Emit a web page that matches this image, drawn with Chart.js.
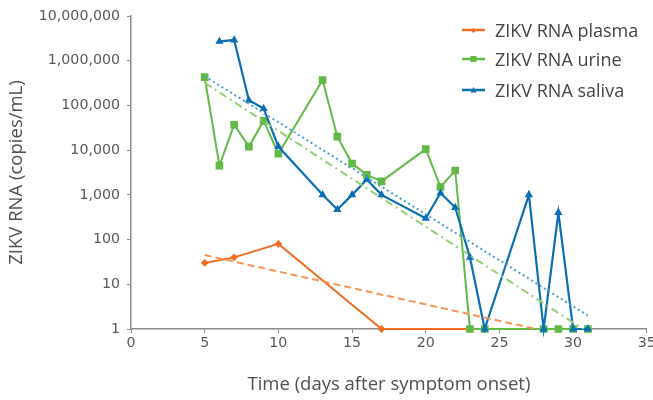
<!DOCTYPE html>
<html>
<head>
<meta charset="utf-8">
<script src="https://cdn.jsdelivr.net/npm/chart.js@4.4.1/dist/chart.umd.min.js"></script>
<style>
  html, body { margin: 0; padding: 0; background: #fff; }
  #wrap { position: relative; width: 653px; height: 400px; }
  #legend { position: absolute; left: 462px; top: 14px; font-family: "Open Sans", sans-serif; font-size: 18px; color: #454545; }
  .item { position: absolute; left: 0; height: 20px; white-space: nowrap; display: flex; align-items: center; }
  .item svg { margin-right: 10px; }
</style>
</head>
<body>
<div id="wrap">
  <canvas id="chart" width="653" height="400"></canvas>
  <div id="legend"></div>
</div>
<script>
// days and copies/mL
const plasmaDays = [5, 7, 10, 17, 23, 24, 28, 31];
const plasmaValues = [30, 40, 80, 1, 1, 1, 1, 1];

const urineDays = [5, 6, 7, 8, 9, 10, 13, 14, 15, 16, 17, 20, 21, 22, 23, 24, 28, 29, 30, 31];
const urineValues = [430000, 4500, 37000, 12000, 45000, 8300, 370000, 20000, 5000, 2800, 2000, 10500, 1500, 3500, 1, 1, 1, 1, 1, 1];

const salivaDays = [6, 7, 8, 9, 10, 13, 14, 15, 16, 17, 20, 21, 22, 23, 24, 27, 28, 29, 30, 31];
const salivaValues = [2700000, 2900000, 130000, 85000, 12000, 1000, 470, 1000, 2200, 1000, 300, 1100, 520, 40, 1, 1000, 1, 400, 1, 1];

// trend line end points [day, value]
const plasmaTrend = [[5, 45], [31, 0.55]];
const urineTrend = [[5, 320000], [31, 0.85]];
const salivaTrend = [[5, 450000], [31, 2]];

const yTicks = [1, 10, 100, 1000, 10000, 100000, 1000000, 10000000];
const xTicks = [0, 5, 10, 15, 20, 25, 30, 35];

const seriesNames = ["ZIKV RNA plasma", "ZIKV RNA urine", "ZIKV RNA saliva"];
const colors = ["#f26d21", "#62b946", "#0b6fb3"];
const trendColors = ["#f7955a", "#93cf74", "#4b9cd6"];

function pts(days, vals) {
  return days.map((d, i) => ({ x: d, y: vals[i] }));
}

const datasets = [
  {
    label: seriesNames[0], data: pts(plasmaDays, plasmaValues),
    borderColor: colors[0], backgroundColor: colors[0], borderWidth: 2,
    pointStyle: "rectRot", pointRadius: 2.5, clip: false, order: 3,
  },
  {
    label: seriesNames[1], data: pts(urineDays, urineValues),
    borderColor: colors[1], backgroundColor: colors[1], borderWidth: 2,
    pointStyle: "rect", pointRadius: 4, clip: false, order: 2,
  },
  {
    label: seriesNames[2], data: pts(salivaDays, salivaValues),
    borderColor: colors[2], backgroundColor: colors[2], borderWidth: 2.2,
    pointStyle: "triangle", pointRadius: 2.6, clip: false, order: 1,
  },
  {
    label: "plasma trend", data: plasmaTrend.map(p => ({ x: p[0], y: p[1] })),
    borderColor: trendColors[0], borderWidth: 2, borderDash: [7, 4], pointRadius: 0, order: 0,
  },
  {
    label: "urine trend", data: urineTrend.map(p => ({ x: p[0], y: p[1] })),
    borderColor: trendColors[1], borderWidth: 2, borderDash: [8, 4, 2, 4], pointRadius: 0, order: 0,
  },
  {
    label: "saliva trend", data: salivaTrend.map(p => ({ x: p[0], y: p[1] })),
    borderColor: trendColors[2], borderWidth: 2, borderDash: [2, 3], pointRadius: 0, order: 0,
  },
];

const tickFont = { family: "'DejaVu Sans', Verdana, sans-serif", size: 14.2 };
const titleFont = { family: "'Open Sans', sans-serif", size: 18.5 };

new Chart(document.getElementById("chart").getContext("2d"), {
  type: "line",
  data: { datasets: datasets },
  options: {
    responsive: false,
    animation: false,
    layout: { padding: { top: 16, right: 3, left: 0, bottom: 0 } },
    plugins: { legend: { display: false }, tooltip: { enabled: false } },
    elements: { line: { tension: 0 } },
    scales: {
      x: {
        type: "linear", min: 0, max: 35,
        afterBuildTicks: (s) => { s.ticks = xTicks.map(v => ({ value: v })); },
        afterFit: (s) => { s.height = 71; s.paddingLeft = 0; s.paddingRight = 0; },
        ticks: { color: "#595959", font: tickFont, padding: 2, maxRotation: 0 },
        grid: { drawOnChartArea: false, tickLength: 4, color: "#8c8c8c" },
        border: { color: "#8c8c8c", width: 1.5 },
        title: { display: true, text: "Time (days after symptom onset)", color: "#505050", font: titleFont, padding: { bottom: 4 } },
      },
      y: {
        type: "logarithmic", min: 1, max: 10000000,
        afterBuildTicks: (s) => { s.ticks = yTicks.map(v => ({ value: v })); },
        afterFit: (s) => { s.width = 131; },
        ticks: {
          color: "#595959", font: tickFont, padding: 7,
          callback: (v) => Number(v).toLocaleString("en-US"),
        },
        grid: { drawOnChartArea: false, tickLength: 4, color: "#8c8c8c" },
        border: { color: "#8c8c8c", width: 1.5 },
        title: { display: true, text: "ZIKV RNA (copies/mL)", color: "#505050", font: titleFont, padding: { top: 6 } },
      },
    },
  },
});

// legend
const legendTops = [6, 35, 66];
const markers = [
  '<polygon points="11.5,0 14,2.5 11.5,5 9,2.5"/>',
  '<rect x="8.5" y="-1" width="6" height="6"/>',
  '<polygon points="11.5,-1 14.5,4.5 8.5,4.5"/>',
];
const legend = document.getElementById("legend");
seriesNames.forEach((name, i) => {
  const item = document.createElement("div");
  item.className = "item";
  item.style.top = legendTops[i] + "px";
  item.innerHTML =
    '<svg width="23" height="8" viewBox="0 -2 23 8"><line x1="0" y1="2" x2="23" y2="2" stroke="' + colors[i] +
    '" stroke-width="2.5"/><g fill="' + colors[i] + '">' + markers[i] + "</g></svg><span>" + name + "</span>";
  legend.appendChild(item);
});
</script>
</body>
</html>
